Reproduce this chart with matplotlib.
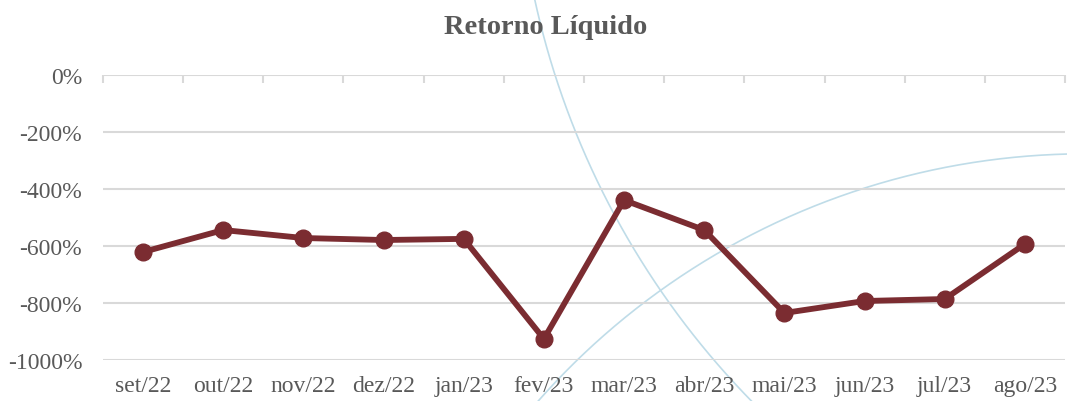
import numpy as np
import matplotlib
matplotlib.use("Agg")
import matplotlib.pyplot as plt

# data
meses = ['set/22', 'out/22', 'nov/22', 'dez/22', 'jan/23', 'fev/23',
         'mar/23', 'abr/23', 'mai/23', 'jun/23', 'jul/23', 'ago/23']
retorno = [-621, -544, -572, -579, -575, -926, -439, -544, -835, -793, -786, -593]
y_ticks = [0, -200, -400, -600, -800, -1000]

W, H = 1067, 402
plt.rcParams['font.family'] = ['Liberation Serif', 'DejaVu Serif']
fig = plt.figure(figsize=(W / 100, H / 100), dpi=100)

# decorative background arcs (figure pixel space)
bg = fig.add_axes([0, 0, 1, 1], zorder=0)
bg.set_xlim(0, W)
bg.set_ylim(H, 0)
bg.axis('off')
for cx, cy, r in [(1342.6, -176.3, 827.0), (1085.5, 884.2, 729.4)]:
    t = np.linspace(0, 2 * np.pi, 2000)
    bg.plot(cx + r * np.cos(t), cy + r * np.sin(t), color='#BFDCE8', lw=1.2)

ax = fig.add_axes([103 / W, (H - 361) / H, 962 / W, 285 / H], zorder=1)
ax.patch.set_alpha(0)
x = np.arange(len(meses))
ax.plot(x, retorno, color='#7B2C31', lw=4.2, marker='o', markersize=12,
        solid_joinstyle='round', zorder=3)

ax.set_xlim(-0.5, len(meses) - 0.5)
ax.set_ylim(-1000, 0)
ax.set_yticks(y_ticks)
ax.set_yticklabels([f'{v}%' for v in y_ticks])
ax.set_xticks(x)
ax.set_xticklabels(meses)
ax.set_xticks(np.arange(len(meses) + 1) - 0.5, minor=True)
ax.grid(axis='y', color='#D9D9D9', lw=1.5, zorder=1)
for s in ax.spines.values():
    s.set_visible(False)
ax.tick_params(axis='y', length=0, pad=15, labelsize=17, labelcolor='#595959')
ax.tick_params(axis='x', which='major', length=0, pad=11, labelsize=17,
               labelcolor='#595959')
ax.tick_params(axis='x', which='minor', top=True, bottom=False, direction='in',
               length=6, width=1.5, color='#D9D9D9')

fig.text(546 / W, 1 - 28 / H, 'Retorno Líquido', ha='center', va='center',
         fontsize=20.5, fontweight='bold', color='#595959')

fig.savefig('out.png', dpi=100)
